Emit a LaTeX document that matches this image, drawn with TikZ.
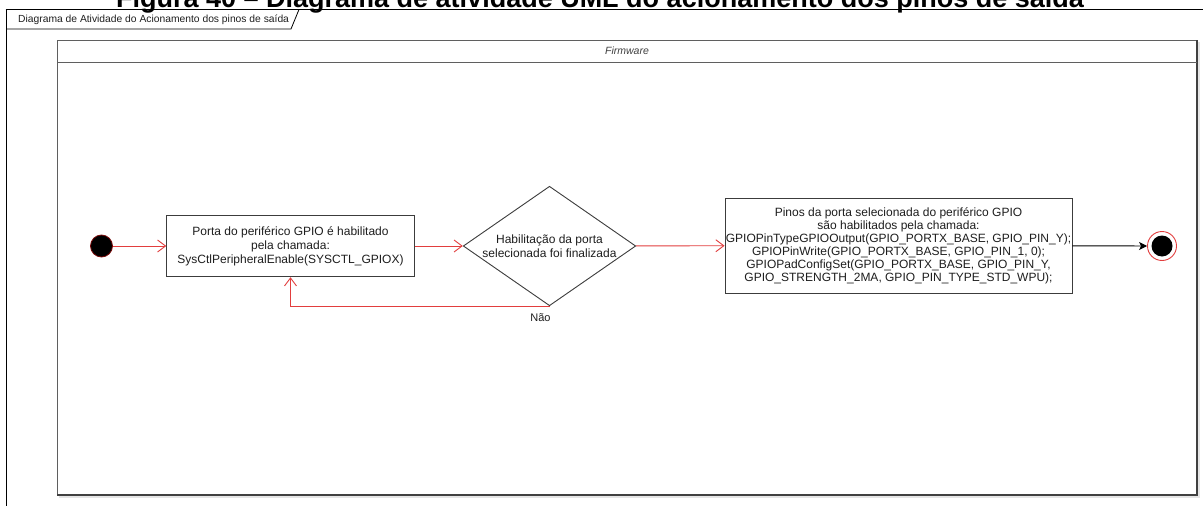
\documentclass[tikz,border=0pt]{standalone}
\usepackage{fontspec}
\setmainfont{Liberation Sans}
\usetikzlibrary{arrows.meta,shapes.geometric}
\definecolor{flowred}{RGB}{226,62,62}
\definecolor{startrim}{RGB}{120,10,10}
\definecolor{boxline}{RGB}{60,60,60}
\definecolor{laneline}{RGB}{95,95,95}
\definecolor{inktext}{RGB}{30,30,30}
\tikzset{
  txt/.style={font=\fontsize{12}{14}\selectfont, text=inktext, align=center},
  actbox/.style={draw=boxline, line width=0.9pt, fill=white, inner sep=0pt, txt},
  decision/.style={diamond, draw=boxline, line width=0.9pt, fill=white, inner sep=0pt},
  redflow/.style={draw=flowred, line width=0.9pt, -{Straight Barb[length=8pt,width=12pt]}},
  blackflow/.style={draw=black, line width=0.9pt, -{Stealth[length=8pt,width=8pt,inset=2pt]}},
}
\begin{document}
\begin{tikzpicture}[x=1pt,y=-1pt]
\useasboundingbox (0,0) rectangle (1203,506);
\clip (0,0) rectangle (1203,506);

% caption above the frame
\node[anchor=base, inner sep=0pt, font=\bfseries\fontsize{27}{30}\selectfont] (caption) at (600,7.5)
  {Figura 40 – Diagrama de atividade UML do acionamento dos pinos de saída};

% outer diagram frame with its name tab
\draw[black, line width=0.9pt] (6,506) -- (6,9.5);
\draw[black, line width=1.2pt] (5.5,9.5) -- (1203,9.5);
\draw[black, line width=0.8pt] (6,29) -- (291,29) -- (299,9.5);
\node[anchor=base west, inner sep=0pt, font=\fontsize{10.3}{12}\selectfont, text=inktext] (framename) at (18,23)
  {Diagrama de Atividade do Acionamento dos pinos de saída};

% swimlane
\fill[black!10] (59,42) rectangle (1199.5,497.5);
\draw[laneline, line width=1pt, fill=white] (57,40) rectangle (1197,495);
\draw[black!75, line width=1.3pt] (57,495) -- (1197,495) -- (1197,40);
\draw[laneline, line width=1pt] (57,62) -- (1197,62);
\node[font=\itshape\fontsize{10.5}{12}\selectfont, text=black!75] (lane) at (627,51) {Firmware};

% activity nodes
\node[circle, fill=black, draw=startrim, line width=0.8pt, minimum size=22pt, inner sep=0pt] (start) at (101.5,246) {};

\node[actbox, minimum width=247.5pt, minimum height=61.5pt] (enable) at (290.5,246)
  {Porta do periférico GPIO é habilitado\\pela chamada:\\SysCtlPeripheralEnable(SYSCTL\_GPIOX)};

\node[decision, minimum width=172.5pt, minimum height=119.5pt] (check) at (549.5,246) {};
\node[txt] (checktext) at (check.center) {Habilitação da porta\\selecionada foi finalizada};

\node[actbox, minimum width=347pt, minimum height=95pt, font=\fontsize{12}{13}\selectfont] (pins) at (898.5,245.5)
  {Pinos da porta selecionada do periférico GPIO\\são habilitados pela chamada:\\GPIOPinTypeGPIOOutput(GPIO\_PORTX\_BASE, GPIO\_PIN\_Y);\\GPIOPinWrite(GPIO\_PORTX\_BASE, GPIO\_PIN\_1, 0);\\GPIOPadConfigSet(GPIO\_PORTX\_BASE, GPIO\_PIN\_Y,\\GPIO\_STRENGTH\_2MA, GPIO\_PIN\_TYPE\_STD\_WPU);};

\node[circle, draw=flowred, line width=0.9pt, fill=white, minimum size=29pt, inner sep=0pt] (finish) at (1162,246) {};
\node[circle, fill=black, minimum size=21pt, inner sep=0pt] (finishcore) at (finish.center) {};

% control flows
\draw[redflow] (start) -- (enable);
\draw[redflow] (enable) -- (check);
\draw[redflow] (check) -- (pins);
\draw[blackflow] (pins) -- (finish);
\draw[redflow] (check.south) -- (check.south -| enable.south) -- (enable.south);
\node[font=\fontsize{11}{12}\selectfont, text=inktext] (no) at (540.5,318) {Não};
\end{tikzpicture}
\end{document}
